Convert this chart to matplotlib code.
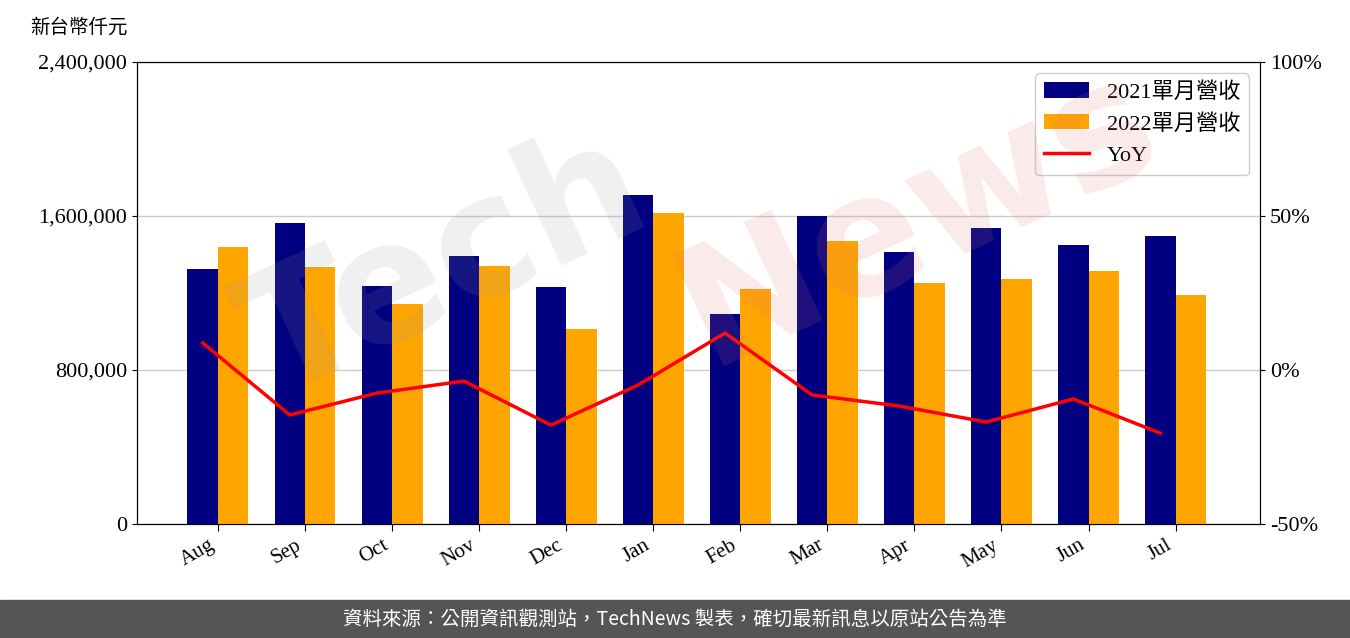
import matplotlib
matplotlib.use("Agg")
import matplotlib.pyplot as plt
import numpy as np

months = ["Aug","Sep","Oct","Nov","Dec","Jan","Feb","Mar","Apr","May","Jun","Jul"]
rev2021 = [1325000,1564000,1236000,1392000,1231000,1709000,1091000,1600000,1413000,1538000,1449000,1496000]
rev2022 = [1439000,1335000,1143000,1340000,1013000,1616000,1221000,1470000,1252000,1273000,1314000,1190000]
yoy = [8.8,-14.6,-7.5,-3.6,-17.9,-4.9,12.0,-8.1,-11.7,-16.9,-9.4,-20.5]

serif = ['Liberation Serif', 'Noto Sans CJK TC', 'DejaVu Sans']
plt.rcParams['font.family'] = serif

fig = plt.figure(figsize=(13.5, 6.38), dpi=100)
ax = fig.add_axes([137/1350, 1-524/638, (1260-137)/1350, (524-62)/638])
x = np.arange(len(months))
w = 0.35
ax.bar(x - w/2, rev2021, w, color='#000080', label='2021單月營收', zorder=3)
ax.bar(x + w/2, rev2022, w, color='#FFA500', label='2022單月營收', zorder=3)
ax.set_ylim(0, 2400000)
ax.set_yticks([0, 800000, 1600000, 2400000])
ax.set_yticklabels(['0', '800,000', '1,600,000', '2,400,000'], fontsize=16)
ax.grid(axis='y', color='#cccccc', lw=1, zorder=0)
ax.set_xlim(-0.93, 11.97)
ax.set_xticks(x)
ax.set_xticklabels(months, rotation=30, ha='right', fontsize=15)
ax.tick_params(axis='x', length=5)

ax2 = ax.twinx()
ln, = ax2.plot(x - w/2, yoy, color='red', lw=2.5, label='YoY')
ax2.set_ylim(-50, 100)
ax2.set_yticks([-50, 0, 50, 100])
ax2.set_yticklabels(['-50%', '0%', '50%', '100%'], fontsize=16)

h1, l1 = ax.get_legend_handles_labels()
leg = ax2.legend(h1 + [ln], l1 + ['YoY'], loc='upper right',
                 prop={'family': serif, 'size': 16}, framealpha=1)

fig.text(30/1350, 1-27/638, '新台幣仟元', fontsize=14, family=['Noto Sans CJK TC'], va='center')

fig.text(0.33, 0.58, 'Tech', fontsize=120, color='#999999', alpha=0.15,
         rotation=25, ha='center', va='center', family=['DejaVu Sans'], fontweight='bold')
fig.text(0.68, 0.66, 'News', fontsize=120, color='#e07070', alpha=0.15,
         rotation=25, ha='center', va='center', family=['DejaVu Sans'], fontweight='bold')

fig.patches.append(plt.Rectangle((0, 0), 1, 38/638, transform=fig.transFigure,
                                 color='#555555', zorder=0))
fig.text(0.5, 19/638, '資料來源：公開資訊觀測站，TechNews 製表，確切最新訊息以原站公告為準',
         color='white', fontsize=14, ha='center', va='center', family=['Noto Sans CJK TC'])

fig.savefig('out.png', dpi=100)
